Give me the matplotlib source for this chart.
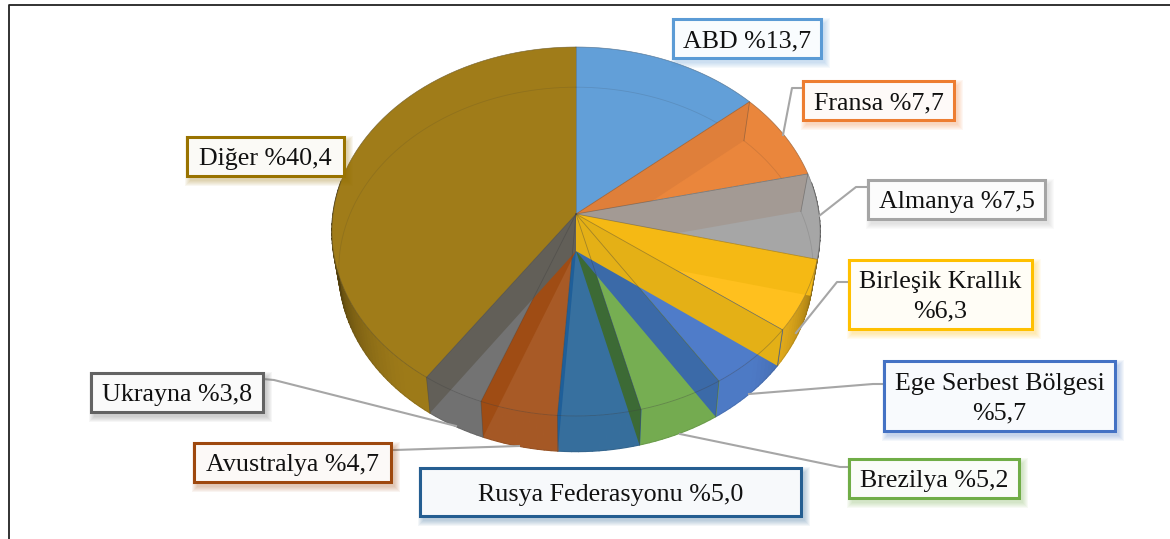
import numpy as np
import matplotlib
matplotlib.use('Agg')
import matplotlib.pyplot as plt
from matplotlib.patches import Polygon, Rectangle
from matplotlib.collections import PolyCollection

# data
countries = ['ABD', 'Fransa', 'Almanya', 'Birleşik Krallık', 'Ege Serbest Bölgesi',
             'Brezilya', 'Rusya Federasyonu', 'Avustralya', 'Ukrayna', 'Diğer']
shares = [13.7, 7.7, 7.5, 6.3, 5.7, 5.2, 5.0, 4.7, 3.8, 40.4]
label_texts = ['ABD %13,7', 'Fransa %7,7', 'Almanya %7,5', 'Birleşik Krallık\n%6,3',
               'Ege Serbest Bölgesi\n%5,7', 'Brezilya %5,2', 'Rusya Federasyonu %5,0',
               'Avustralya %4,7', 'Ukrayna %3,8', 'Diğer %40,4']

top_colors = ['#629fd8', '#ea863c', '#a6a6a6', '#ffc01e', '#4f7cc9',
              '#76ae52', '#37709f', '#a85a26', '#737373', '#a07c19']
border_colors = ['#5b9bd5', '#ed7d31', '#a5a5a5', '#ffc000', '#4472c4',
                 '#70ad47', '#255e91', '#9e480e', '#636363', '#997300']
# colour of the inner wall on each slice boundary, going clockwise from ABD/Fransa
wall_colors = ['#df7f3a', '#a39a94', '#f5b914', '#e4b016', '#3b6aa8',
               '#3c6a35', '#1f5f99', '#9f4c14', '#625f58']

# box positions in pixels: left, top, right, bottom
boxes = [(673, 19, 821, 58), (803, 81, 954, 120), (868, 180, 1045, 219),
         (849, 260, 1032, 329), (884, 361, 1115, 431), (849, 459, 1019, 498),
         (420, 468, 801, 516), (194, 443, 391, 482), (91, 373, 263, 412),
         (187, 137, 344, 176)]
leaders = [None,
           [(783, 135), (792, 88), (803, 88)],
           [(819, 216), (856, 187), (868, 187)],
           [(796, 333), (837, 282), (849, 282)],
           [(749, 394), (873, 384), (884, 384)],
           [(680, 434), (840, 467), (849, 467)],
           None,
           [(519, 446), (395, 450), (391, 450)],
           [(456, 426), (274, 380), (263, 379)],
           None]


def rim(t, level=0):
    # perspective projection of the pie disc, t in degrees clockwise from 12 o'clock
    t = np.radians(t)
    X, Y = np.sin(t), np.cos(t)
    if level == 0:
        w = 1 + 0.0949 * Y
        return 576 + 243 * X / w, (214 - 162.5 * Y) / w
    w = 1 + 0.101 * Y
    return 576 + 236 * X / w, (251 - 155 * Y) / w


def darker(color, f):
    return tuple(c * f for c in matplotlib.colors.to_rgb(color))


def tint(color, f):
    return tuple(1 - (1 - c) * f for c in matplotlib.colors.to_rgb(color))


fig = plt.figure(figsize=(11.7, 5.39), dpi=100)
ax = fig.add_axes([0, 0, 1, 1])
ax.set_xlim(0, 1170)
ax.set_ylim(539, 0)
ax.axis('off')

# frame, open on the right
ax.plot([9, 9, 1170], [539, 5, 5], color='#222222', lw=1.3, zorder=1)

edges = np.cumsum([0] + shares) / sum(shares) * 360

# outer wall, shaded towards the silhouette
quads, shades = [], []
for i in range(len(shares)):
    ts = np.arange(edges[i], edges[i + 1], 1.5).tolist() + [edges[i + 1]]
    for a, b in zip(ts[:-1], ts[1:]):
        mid = (a + b) / 2
        if mid < 80 or mid > 280:
            continue
        xa, ya = rim(a)
        xb, yb = rim(b)
        xc, yc = rim(b, 1)
        xd, yd = rim(a, 1)
        quads.append([(xa, ya), (xb, yb), (xc, yc), (xd, yd)])
        off = max(0, (abs(mid - 180) - 42) / 50)
        shades.append(darker(top_colors[i], 0.98 - 0.65 * min(off, 1) ** 1.3))
ax.add_collection(PolyCollection(quads, facecolors=shades, edgecolors=shades, lw=0.9, zorder=2))

# top surfaces
for i in range(len(shares)):
    ts = np.linspace(edges[i], edges[i + 1], 60)
    x, y = rim(ts)
    pts = [(576, 214)] + list(zip(x, y))
    ax.add_patch(Polygon(pts, closed=True, fc=top_colors[i], ec=top_colors[i], lw=0.3, zorder=3))

# bottom disc showing through
ts = np.linspace(0, 360, 361)
x, y = rim(ts, 1)
ax.plot(x, y, color='#303030', lw=0.6, alpha=0.14, zorder=4)

# inner walls showing through the top; the ones further back sit on top
bounds = list(range(1, len(shares)))
bounds.sort(key=lambda k: edges[k] if edges[k] < 130 else abs(edges[k] - 180) - 100)
for n, i in enumerate(bounds):
    t = edges[i]
    xr, yr = rim(t)
    xb, yb = rim(t, 1)
    pts = [(576, 214), (xr, yr), (xb, yb), (576, 251)]
    ax.add_patch(Polygon(pts, closed=True, fc=wall_colors[i - 1], ec='none', zorder=5 + n * 0.01))

# slice edges on top of everything in the pie
for i in range(1, len(shares)):
    xr, yr = rim(edges[i])
    xb, yb = rim(edges[i], 1)
    ax.plot([576, xr, xb], [214, yr, yb], color='#404040', lw=0.6, alpha=0.4, zorder=6)
ax.plot([576, 576], [47, 214], color='#404040', lw=0.5, alpha=0.3, zorder=6)

# rim outline
x, y = rim(ts)
ax.plot(x, y, color='#404040', lw=0.6, alpha=0.35, zorder=6)

# leader lines
for line in leaders:
    if line is not None:
        ax.plot([p[0] for p in line], [p[1] for p in line], color='#a6a6a6', lw=1.5, zorder=7)

# label boxes
for i in range(len(label_texts)):
    l, t, r, b = boxes[i]
    for k in range(6, 0, -1):
        ax.add_patch(Rectangle((l + 4 - k, t + 5 - k), r - l + 2 * k - 1, b - t + 2 * k - 1,
                               fc=border_colors[i], ec='none', alpha=0.055, zorder=8))
    ax.add_patch(Rectangle((l, t), r - l, b - t, fc=tint(border_colors[i], 0.035),
                           ec=border_colors[i], lw=2.2, zorder=9))
    ax.text((l + r) / 2, (t + b) / 2 + 2.5, label_texts[i], ha='center', va='center',
            fontsize=18.7, family='Liberation Serif', color='#111111', linespacing=1.42, zorder=10)

fig.savefig('out.png', dpi=100)
